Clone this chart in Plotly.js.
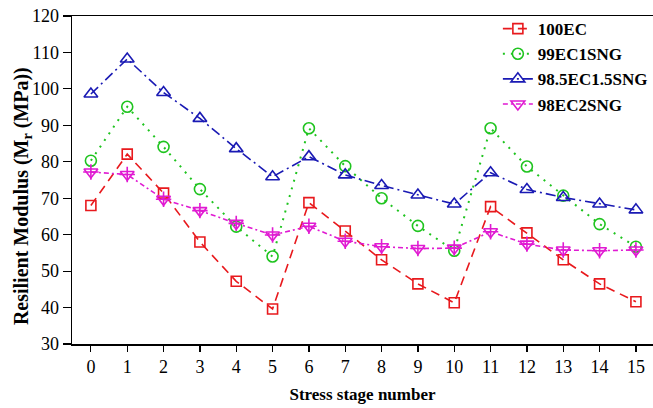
<!DOCTYPE html>
<html>
<head>
<meta charset="utf-8">
<script src="https://cdn.plot.ly/plotly-3.0.1.min.js"></script>
<style>html,body{margin:0;padding:0;background:#fff;}#chart{width:653px;height:408px;}</style>
</head>
<body>
<div id="chart"></div>
<script>
const stages = [0,1,2,3,4,5,6,7,8,9,10,11,12,13,14,15];
const ec100 = [68.0,82.1,71.4,58.0,47.2,39.6,68.8,61.0,53.1,46.5,41.3,67.7,60.5,53.1,46.5,41.6];
const ec99sng1 = [80.3,95.1,84.1,72.5,62.2,54.0,89.2,78.8,70.0,62.4,55.6,89.2,78.7,70.7,62.9,56.7];
const ec985sng15 = [98.6,108.2,99.0,91.9,83.6,75.9,81.4,76.4,73.5,70.9,68.4,77.0,72.4,70.2,68.4,66.8];
const ec98sng2 = [77.2,76.5,69.7,66.6,63.1,59.9,62.3,58.2,56.7,56.2,56.3,60.8,57.4,55.8,55.6,55.8];
const seriesNames = ['100EC','99EC1SNG','98.5EC1.5SNG','98EC2SNG'];
const yTitle = '<b>Resilient Modulus (M<sub>r</sub> (MPa))</b>';
const xTitle = '<b>Stress stage number</b>';

const FONT = 'Liberation Serif, Times New Roman, serif';
const traces = [
  {x: stages, y: ec100, name: seriesNames[0], mode: 'lines+markers',
   line: {color: '#e8191d', width: 1.6, dash: '9px,6px'},
   marker: {symbol: 'square-open', size: 10, color: '#e8191d', line: {width: 1.6}}},
  {x: stages, y: ec99sng1, name: seriesNames[1], mode: 'lines+markers',
   line: {color: '#1fc41f', width: 2, dash: '2px,6px'},
   marker: {symbol: 'circle-open', size: 11, color: '#1fc41f', line: {width: 1.6}}},
  {x: stages, y: ec985sng15, name: seriesNames[2], mode: 'lines+markers',
   line: {color: '#1a1ab4', width: 1.6, dash: '10px,4px,2px,4px'},
   marker: {symbol: 'triangle-up-open', size: 12, color: '#1a1ab4', line: {width: 1.6}}},
  {x: stages, y: ec98sng2, name: seriesNames[3], mode: 'lines+markers',
   line: {color: '#e01ad2', width: 1.6, dash: '5px,3px,2px,3px'},
   marker: {symbol: 'triangle-down-open', size: 12, color: '#e01ad2', line: {width: 1.6}}},
  {x: stages, y: ec98sng2, name: seriesNames[3], mode: 'markers', showlegend: false, hoverinfo: 'skip',
   marker: {symbol: 'cross-thin-open', size: 11, color: '#e01ad2', line: {width: 1.6, color: '#e01ad2'}}}
];

const layout = {
  width: 653, height: 408,
  margin: {l: 72, r: 0, t: 16, b: 64, autoexpand: false},
  paper_bgcolor: '#fff', plot_bgcolor: '#fff',
  font: {family: FONT, size: 17, color: '#000'},
  showlegend: true,
  legend: {x: 0.733, xanchor: 'left', y: 1.015, yanchor: 'top', bgcolor: 'rgba(0,0,0,0)',
    font: {family: FONT, size: 17, color: '#000', weight: 'bold'}, tracegroupgap: 0, itemwidth: 30},
  xaxis: {
    range: [-0.52, 15.47], tickvals: stages, ticktext: stages.map(String),
    showgrid: false, zeroline: false, showline: true, linecolor: '#000', linewidth: 1.5,
    mirror: true, ticks: 'outside', ticklen: 6, tickwidth: 1.2, tickcolor: '#000',
    tickfont: {family: FONT, size: 18, color: '#000'},
    title: {text: xTitle, font: {family: FONT, size: 17, color: '#000'}, standoff: 12}
  },
  yaxis: {
    range: [30, 120], tickvals: [30,40,50,60,70,80,90,100,110,120],
    showgrid: false, zeroline: false, showline: true, linecolor: '#000', linewidth: 1.5,
    ticks: 'outside', ticklen: 8, tickwidth: 1.2, tickcolor: '#000',
    tickfont: {family: FONT, size: 18, color: '#000'}
  },
  annotations: [{
    text: yTitle, textangle: -90, showarrow: false,
    xref: 'paper', yref: 'paper', x: -0.086, y: 0.451, xanchor: 'center', yanchor: 'middle',
    font: {family: FONT, size: 20, color: '#000'}
  }]
};
Plotly.newPlot('chart', traces, layout, {staticPlot: true, displayModeBar: false});
</script>
</body>
</html>
